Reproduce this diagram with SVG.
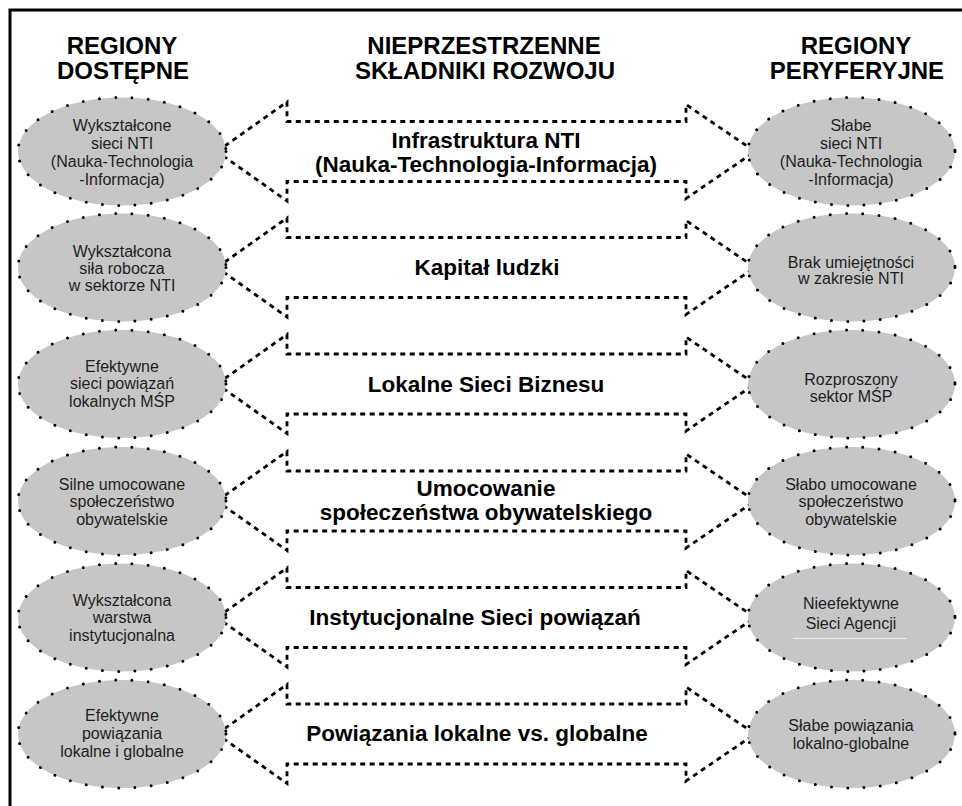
<svg xmlns="http://www.w3.org/2000/svg" width="962" height="806" viewBox="0 0 962 806">
<style>
.hdr{font-family:"Liberation Sans",Arial,sans-serif;font-weight:bold;font-size:24px;fill:#000;text-anchor:middle}
.ell{fill:#c6c6c6;stroke:#000;stroke-width:3;stroke-dasharray:0 16.3;stroke-linecap:round}
.et{font-family:"Liberation Sans",Arial,sans-serif;font-size:16px;fill:#1e1e1e;text-anchor:middle}
.arr{fill:none;stroke:#000;stroke-width:2.8;stroke-dasharray:5 4.5}
.at{font-family:"Liberation Sans",Arial,sans-serif;font-weight:bold;font-size:22.5px;fill:#000;text-anchor:middle}
</style>
<defs>
<path id="arrowShape" d="M217,0 L287,-49.5 L287,-30 L686,-30 L686,-47 L755,0 L686,47 L686,30 L287,30 L287,49.5 Z"/>
</defs>
<rect x="0" y="0" width="962" height="806" fill="#fff"/>
<rect id="frame" x="10" y="10" width="1000" height="1000" fill="none" stroke="#000" stroke-width="3"/>

<g id="headers">
<text class="hdr" x="122" y="54">REGIONY</text>
<text class="hdr" x="123" y="79">DOSTĘPNE</text>
<text class="hdr" x="484" y="54">NIEPRZESTRZENNE</text>
<text class="hdr" x="485" y="79">SKŁADNIKI ROZWOJU</text>
<text class="hdr" x="856" y="54">REGIONY</text>
<text class="hdr" x="857" y="79">PERYFERYJNE</text>
</g>

<g id="connectors">
<g id="arrow1" transform="translate(0,151.5)"><use href="#arrowShape" class="arr"/></g>
<g id="arrow2" transform="translate(0,267.5)"><use href="#arrowShape" class="arr"/></g>
<g id="arrow3" transform="translate(0,384)"><use href="#arrowShape" class="arr"/></g>
<g id="arrow4" transform="translate(0,501)"><use href="#arrowShape" class="arr"/></g>
<g id="arrow5" transform="translate(0,617.5)"><use href="#arrowShape" class="arr"/></g>
<g id="arrow6" transform="translate(0,734)"><use href="#arrowShape" class="arr"/></g>
</g>

<g id="labels">
<g id="label1"><text class="at" x="486" y="148">Infrastruktura NTI</text><text class="at" x="486" y="172">(Nauka-Technologia-Informacja)</text></g>
<g id="label2"><text class="at" x="487" y="275">Kapitał ludzki</text></g>
<g id="label3"><text class="at" x="486" y="392">Lokalne Sieci Biznesu</text></g>
<g id="label4"><text class="at" x="486" y="496">Umocowanie</text><text class="at" x="486" y="520">społeczeństwa obywatelskiego</text></g>
<g id="label5"><text class="at" x="475" y="625">Instytucjonalne Sieci powiązań</text></g>
<g id="label6"><text class="at" x="477" y="741">Powiązania lokalne vs. globalne</text></g>
</g>

<g id="left1"><ellipse class="ell" cx="122" cy="151.5" rx="104" ry="54"/>
<text class="et" x="122" y="131">Wykształcone</text><text class="et" x="122" y="149">sieci NTI</text><text class="et" x="122" y="167">(Nauka-Technologia</text><text class="et" x="122" y="185">-Informacja)</text></g>
<g id="left2"><ellipse class="ell" cx="122" cy="267.5" rx="104" ry="54"/>
<text class="et" x="122" y="257">Wykształcona</text><text class="et" x="122" y="274">siła robocza</text><text class="et" x="122" y="291">w sektorze NTI</text></g>
<g id="left3"><ellipse class="ell" cx="122" cy="384" rx="104" ry="54"/>
<text class="et" x="122" y="372">Efektywne</text><text class="et" x="122" y="389">sieci powiązań</text><text class="et" x="122" y="407">lokalnych MŚP</text></g>
<g id="left4"><ellipse class="ell" cx="122" cy="501" rx="104" ry="54"/>
<text class="et" x="122" y="490">Silne umocowane</text><text class="et" x="122" y="507">społeczeństwo</text><text class="et" x="122" y="525">obywatelskie</text></g>
<g id="left5"><ellipse class="ell" cx="122" cy="617.5" rx="104" ry="54"/>
<text class="et" x="122" y="606">Wykształcona</text><text class="et" x="122" y="623">warstwa</text><text class="et" x="122" y="641">instytucjonalna</text></g>
<g id="left6"><ellipse class="ell" cx="122" cy="734" rx="104" ry="54"/>
<text class="et" x="122" y="721">Efektywne</text><text class="et" x="122" y="739">powiązania</text><text class="et" x="122" y="757">lokalne i globalne</text></g>

<g id="right1"><ellipse class="ell" cx="851.5" cy="151.5" rx="103.5" ry="54"/>
<text class="et" x="851" y="131">Słabe</text><text class="et" x="851" y="149">sieci NTI</text><text class="et" x="851" y="167">(Nauka-Technologia</text><text class="et" x="851" y="185">-Informacja)</text></g>
<g id="right2"><ellipse class="ell" cx="851.5" cy="267.5" rx="103.5" ry="54"/>
<text class="et" x="851" y="268">Brak umiejętności</text><text class="et" x="851" y="284">w zakresie NTI</text></g>
<g id="right3"><ellipse class="ell" cx="851.5" cy="384" rx="103.5" ry="54"/>
<text class="et" x="851" y="385">Rozproszony</text><text class="et" x="851" y="402">sektor MŚP</text></g>
<g id="right4"><ellipse class="ell" cx="851.5" cy="501" rx="103.5" ry="54"/>
<text class="et" x="851" y="490">Słabo umocowane</text><text class="et" x="851" y="507">społeczeństwo</text><text class="et" x="851" y="525">obywatelskie</text></g>
<g id="right5"><ellipse class="ell" cx="851.5" cy="617.5" rx="103.5" ry="54"/>
<text class="et" x="851" y="609">Nieefektywne</text><text class="et" x="851" y="629">Sieci Agencji</text>
<line x1="793" y1="638.5" x2="907" y2="638.5" stroke="#ececec" stroke-width="1"/></g>
<g id="right6"><ellipse class="ell" cx="851.5" cy="734" rx="103.5" ry="54"/>
<text class="et" x="851" y="731">Słabe powiązania</text><text class="et" x="851" y="749">lokalno-globalne</text></g>
</svg>
